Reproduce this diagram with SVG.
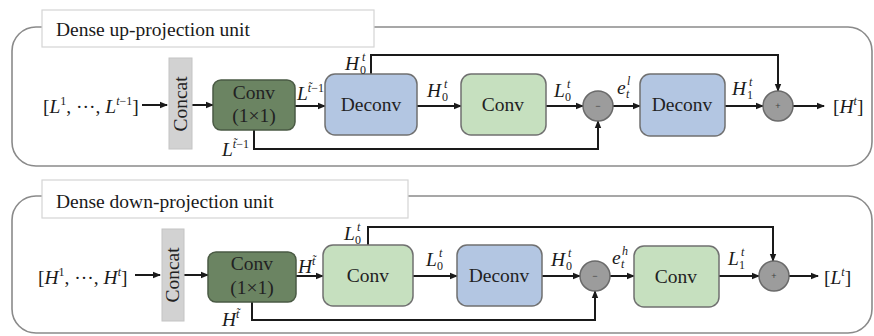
<svg xmlns="http://www.w3.org/2000/svg" width="874" height="336" viewBox="0 0 874 336">
<style>
.panel{fill:none;stroke:#8a8a8a;stroke-width:1.6}
.title{fill:#fff;stroke:#d4d4d4;stroke-width:1.2}
.tt{font-family:"Liberation Serif",serif;font-size:19.5px;fill:#1a1a1a}
.concat{fill:#d2d2d2;stroke:#c4c4c4;stroke-width:1}
.c11{fill:#6b8462;stroke:#4a5a44;stroke-width:1.5}
.conv{fill:#c6e0bf;stroke:#707070;stroke-width:1.5}
.dec{fill:#b3c6e2;stroke:#707070;stroke-width:1.5}
.op{fill:#9c9c9c;stroke:#6a6a6a;stroke-width:1.5}
.bt{font-family:"Liberation Serif",serif;font-size:19.5px;fill:#222;text-anchor:middle}
.m{font-family:"Liberation Serif",serif;font-size:19.5px;fill:#1a1a1a}
.i{font-style:italic}
.s{font-size:12px}
.w{fill:none;stroke:#1a1a1a;stroke-width:2}
.sym{font-family:"Liberation Sans",sans-serif;font-size:9px;fill:#444;text-anchor:middle}
</style>
<defs>
<marker id="ah" viewBox="0 0 8 8" refX="7" refY="4" markerWidth="8" markerHeight="8" markerUnits="userSpaceOnUse" orient="auto">
<path d="M0,0.8 L8,4 L0,7.2 Z" fill="#1a1a1a"/>
</marker>
</defs>

<!-- panels -->
<g id="panel-up">
<rect class="panel" x="12" y="27" width="860" height="139" rx="24"/>
<rect class="title" x="42" y="10" width="332" height="37"/>
<text class="tt" x="56" y="36">Dense up-projection unit</text>
</g>
<g id="panel-down">
<rect class="panel" x="12" y="196" width="860" height="137" rx="24"/>
<rect class="title" x="42" y="180" width="366" height="38"/>
<text class="tt" x="56" y="208">Dense down-projection unit</text>
</g>

<!-- connectors -->
<g id="connectors" class="w">
<path d="M142,105 H167" marker-end="url(#ah)"/>
<path d="M192,105 H213" marker-end="url(#ah)"/>
<path d="M295,106 H325" marker-end="url(#ah)"/>
<path d="M417,106 H461" marker-end="url(#ah)"/>
<path d="M546,106 H583" marker-end="url(#ah)"/>
<path d="M613,106 H640" marker-end="url(#ah)"/>
<path d="M725,106 H763" marker-end="url(#ah)"/>
<path d="M793,106 H824" marker-end="url(#ah)"/>
<path d="M371,74 V55 H778 V91" marker-end="url(#ah)"/>
<path d="M254,130 V149 H598 V121" marker-end="url(#ah)"/>

<path d="M135,275 H160" marker-end="url(#ah)"/>
<path d="M184,275 H208" marker-end="url(#ah)"/>
<path d="M296,276 H323" marker-end="url(#ah)"/>
<path d="M413,276 H457" marker-end="url(#ah)"/>
<path d="M542,276 H580" marker-end="url(#ah)"/>
<path d="M610,276 H634" marker-end="url(#ah)"/>
<path d="M719,276 H759" marker-end="url(#ah)"/>
<path d="M789,276 H818" marker-end="url(#ah)"/>
<path d="M368,245 V227 H773 V261" marker-end="url(#ah)"/>
<path d="M252,302 V320 H595 V291" marker-end="url(#ah)"/>
</g>

<!-- top nodes -->
<g id="concat-up"><rect class="concat" x="169" y="58" width="23" height="91"/>
<text class="bt" transform="translate(187,104) rotate(-90)">Concat</text></g>
<g id="conv11-up"><rect class="c11" x="213" y="80" width="82" height="50" rx="8"/>
<text class="bt" x="254" y="99">Conv</text><text class="bt" x="254" y="122">(1×1)</text></g>
<g id="deconv-up1"><rect class="dec" x="325" y="74" width="92" height="61" rx="10"/>
<text class="bt" x="371" y="111">Deconv</text></g>
<g id="conv-up"><rect class="conv" x="461" y="74" width="85" height="61" rx="10"/>
<text class="bt" x="503" y="111">Conv</text></g>
<g id="minus-up"><circle class="op" cx="598" cy="106" r="15"/><text class="sym" x="598" y="109">−</text></g>
<g id="deconv-up2"><rect class="dec" x="640" y="74" width="85" height="62" rx="10"/>
<text class="bt" x="682" y="111">Deconv</text></g>
<g id="plus-up"><circle class="op" cx="778" cy="106" r="15"/><text class="sym" x="778" y="109">+</text></g>

<!-- bottom nodes -->
<g id="concat-down"><rect class="concat" x="162" y="229" width="22" height="92"/>
<text class="bt" transform="translate(179,275) rotate(-90)">Concat</text></g>
<g id="conv11-down"><rect class="c11" x="208" y="252" width="88" height="50" rx="8"/>
<text class="bt" x="252" y="270">Conv</text><text class="bt" x="252" y="294">(1×1)</text></g>
<g id="conv-down1"><rect class="conv" x="323" y="245" width="90" height="61" rx="10"/>
<text class="bt" x="368" y="282">Conv</text></g>
<g id="deconv-down"><rect class="dec" x="457" y="245" width="85" height="61" rx="10"/>
<text class="bt" x="499" y="282">Deconv</text></g>
<g id="minus-down"><circle class="op" cx="595" cy="276" r="15"/><text class="sym" x="595" y="279">−</text></g>
<g id="conv-down2"><rect class="conv" x="634" y="246" width="85" height="61" rx="10"/>
<text class="bt" x="676" y="283">Conv</text></g>
<g id="plus-down"><circle class="op" cx="774" cy="276" r="15"/><text class="sym" x="774" y="279">+</text></g>

<!-- labels top -->
<g id="labels-up" class="m">
<text x="43" y="113">[<tspan class="i">L</tspan><tspan class="s" dy="-8">1</tspan><tspan dy="8">, ···, </tspan><tspan class="i">L</tspan><tspan class="s i" dy="-8">t</tspan><tspan class="s">−1</tspan><tspan dy="8">]</tspan></text>
<text x="297" y="100"><tspan class="i">L</tspan><tspan class="s i" dy="-8">t̃</tspan><tspan class="s">−1</tspan></text>
<text x="345" y="70"><tspan class="i">H</tspan><tspan class="s" x="360" dy="4">0</tspan><tspan class="s i" x="362" dy="-13">t</tspan></text>
<text x="427" y="97"><tspan class="i">H</tspan><tspan class="s" x="442" dy="4">0</tspan><tspan class="s i" x="444" dy="-13">t</tspan></text>
<text x="554" y="97"><tspan class="i">L</tspan><tspan class="s" x="565" dy="4">0</tspan><tspan class="s i" x="567" dy="-13">t</tspan></text>
<text x="617" y="94"><tspan class="i">e</tspan><tspan class="s i" x="626" dy="4">t</tspan><tspan class="s i" x="627" dy="-13">l</tspan></text>
<text x="732" y="95"><tspan class="i">H</tspan><tspan class="s" x="747" dy="4">1</tspan><tspan class="s i" x="749" dy="-13">t</tspan></text>
<text x="833" y="113">[<tspan class="i">H</tspan><tspan class="s i" dy="-8">t</tspan><tspan dy="8">]</tspan></text>
<text x="222" y="156"><tspan class="i">L</tspan><tspan class="s i" dy="-8">t̃</tspan><tspan class="s">−1</tspan></text>
</g>

<!-- labels bottom -->
<g id="labels-down" class="m">
<text x="38" y="284">[<tspan class="i">H</tspan><tspan class="s" dy="-8">1</tspan><tspan dy="8">, ···, </tspan><tspan class="i">H</tspan><tspan class="s i" dy="-8">t</tspan><tspan dy="8">]</tspan></text>
<text x="298" y="273"><tspan class="i">H</tspan><tspan class="s i" dy="-8">t̃</tspan></text>
<text x="344" y="240"><tspan class="i">L</tspan><tspan class="s" x="355" dy="4">0</tspan><tspan class="s i" x="357" dy="-13">t</tspan></text>
<text x="426" y="266"><tspan class="i">L</tspan><tspan class="s" x="437" dy="4">0</tspan><tspan class="s i" x="439" dy="-13">t</tspan></text>
<text x="551" y="266"><tspan class="i">H</tspan><tspan class="s" x="566" dy="4">0</tspan><tspan class="s i" x="568" dy="-13">t</tspan></text>
<text x="612" y="264"><tspan class="i">e</tspan><tspan class="s i" x="621" dy="4">t</tspan><tspan class="s i" x="622" dy="-13">h</tspan></text>
<text x="728" y="265"><tspan class="i">L</tspan><tspan class="s" x="739" dy="4">1</tspan><tspan class="s i" x="741" dy="-13">t</tspan></text>
<text x="824" y="284">[<tspan class="i">L</tspan><tspan class="s i" dy="-8">t</tspan><tspan dy="8">]</tspan></text>
<text x="222" y="326"><tspan class="i">H</tspan><tspan class="s i" dy="-8">t̃</tspan></text>
</g>
</svg>
